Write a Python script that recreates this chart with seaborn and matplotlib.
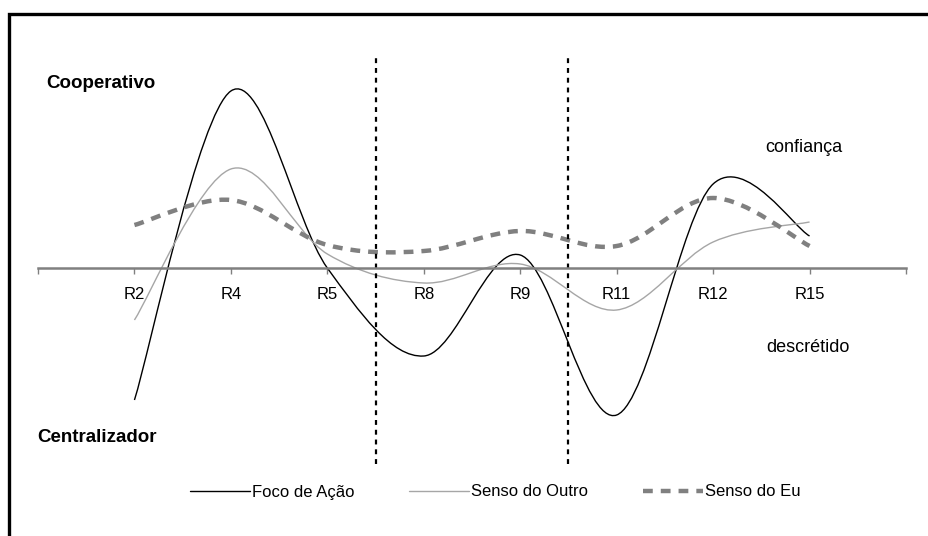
import numpy as np
import matplotlib
matplotlib.use("Agg")
import matplotlib.pyplot as plt
import seaborn as sns
from matplotlib.path import Path
from matplotlib.patches import PathPatch, Rectangle
from matplotlib.lines import Line2D

## Data

rodadas = ["R2", "R4", "R5", "R8", "R9", "R11", "R12", "R15"]
foco_acao = [-132, 177, 0, -88, 13, -147, 84, 32]
senso_outro = [-52, 99, 14, -15, 4, -42, 26, 46]
senso_eu = [43, 68, 23, 17, 37, 22, 70, 22]

## Style

sns.set_theme(style="white")
plt.rcParams["font.family"] = ["Liberation Sans", "DejaVu Sans"]
plt.rcParams["text.color"] = "black"
plt.rcParams["xtick.color"] = "black"


def smooth_path(xs, ys):
    # Excel-like smoothed line: cubic Bezier segments through every point
    pts = np.column_stack([xs, ys]).astype(float)
    n = len(pts)
    verts = [pts[0]]
    codes = [Path.MOVETO]
    for i in range(n - 1):
        p0 = pts[i - 1] if i > 0 else pts[i]
        p1 = pts[i]
        p2 = pts[i + 1]
        p3 = pts[i + 2] if i + 2 < n else pts[i + 1]
        c1 = p1 + (p2 - p0) / 6
        c2 = p2 - (p3 - p1) / 6
        verts += [c1, c2, p2]
        codes += [Path.CURVE4] * 3
    return Path(verts, codes)


fig = plt.figure(figsize=(9.29, 5.36), dpi=100)
ax = fig.add_axes([38 / 929, 0, 868 / 929, 1])
ax.set_xlim(0, 9)
ax.set_ylim(-268, 268)

x = np.arange(1, len(rodadas) + 1)

series = [
    ("Foco de Ação", foco_acao, dict(color="black", lw=1.0)),
    ("Senso do Outro", senso_outro, dict(color="#a6a6a6", lw=1.0)),
    ("Senso do Eu", senso_eu, dict(color="#808080", lw=3.2, linestyle=(0, (2.2, 1.8)))),
]

handles = []
for name, vals, kw in series:
    ax.add_patch(PathPatch(smooth_path(x, vals), facecolor="none",
                           edgecolor=kw["color"], lw=kw["lw"],
                           linestyle=kw.get("linestyle", "-"),
                           capstyle="butt"))
    handles.append(Line2D([], [], label=name, **kw))

# dividers between phases
for xv in [3.5, 5.5]:
    ax.plot([xv, xv], [-196, 211], color="black", lw=1.6,
            linestyle=(0, (2.2, 2.2)))

## Axis at zero

for s in ["top", "right", "left"]:
    ax.spines[s].set_visible(False)
ax.spines["bottom"].set_position(("data", 0))
ax.spines["bottom"].set_color("#808080")
ax.spines["bottom"].set_linewidth(1.8)

ax.set_yticks([])
ax.xaxis.remove_overlapping_locs = False
ax.set_xticks(np.arange(0, 10))
ax.set_xticklabels([])
ax.tick_params(axis="x", which="major", direction="out", length=4.5,
               width=1, color="#808080", bottom=True)
ax.set_xticks(x, minor=True)
ax.set_xticklabels(rodadas, minor=True)
ax.tick_params(axis="x", which="minor", length=0, pad=14, labelsize=12,
               labelcolor="black")

## Annotations

ax.text((46 - 38) / 96.4, 268 - 84, "Cooperativo", fontsize=13.5,
        fontweight="bold", va="center")
ax.text((37 - 38) / 96.4, 268 - 437, "Centralizador", fontsize=13.5,
        fontweight="bold", va="center")
ax.text((765 - 38) / 96.4, 268 - 147, "confiança", fontsize=13, va="center")
ax.text((766 - 38) / 96.4, 268 - 348, "descrétido", fontsize=13, va="center")

fig.legend(handles=handles, loc="center", bbox_to_anchor=(0.533, 1 - 492 / 536),
           ncol=3, frameon=False, fontsize=12, handlelength=3.6,
           handletextpad=0.12, columnspacing=3.3, labelcolor="black")

# outer frame (cut off on the right and bottom)
fig.patches.append(Rectangle((9.5 / 929, -0.1), 1.2, 1.1 - 13.5 / 536,
                             transform=fig.transFigure, fill=False,
                             edgecolor="black", lw=2.4))

fig.savefig("out.png", dpi=100)
